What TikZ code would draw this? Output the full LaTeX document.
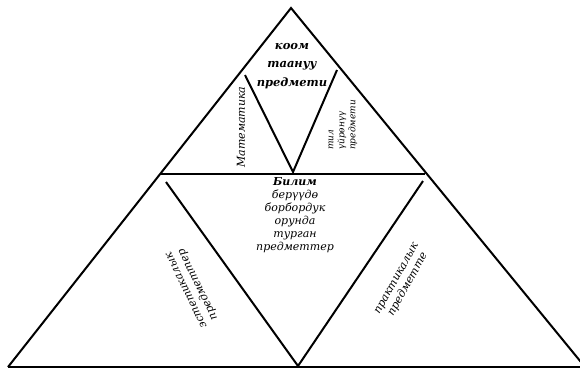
\documentclass[tikz,border=0pt]{standalone}
\usepackage{fontspec}
\setmainfont{DejaVu Serif}
\begin{document}
\begin{tikzpicture}[x=1pt,y=-1pt,
  edge/.style={line width=2pt, line cap=butt, line join=miter},
  lbl/.style={font=\itshape\fontsize{11}{13}\selectfont, align=center, inner sep=0pt},
  toplbl/.style={font=\bfseries\itshape\fontsize{11.5}{18.5}\selectfont, align=center, inner sep=0pt},
  smalllbl/.style={font=\itshape\fontsize{9}{11}\selectfont, align=left, inner sep=0pt}]
\useasboundingbox (0,0) rectangle (580,370);
% vertices
\coordinate (A) at (291,8);
\coordinate (BL) at (8,367);
\coordinate (BR) at (585,367);
\coordinate (BE) at (580,367);
\coordinate (H1) at (161,174);
\coordinate (H2) at (425,174);
\coordinate (T1) at (245,75);
\coordinate (T2) at (337,70);
\coordinate (TB) at (293,172);
\coordinate (L1) at (166,182);
\coordinate (LB) at (298,366);
\coordinate (L2) at (423,181);
% lines
\draw[edge] (BL) -- (A) -- (BR);
\draw[edge] (BL) -- (BE);
\draw[edge] (H1) -- (H2);
\draw[edge] (T1) -- (TB) -- (T2);
\draw[edge] (L1) -- (LB) -- (L2);
% texts
\node[toplbl] (soc) at (292,66) {коом\\таануу\\предмети};
\node[lbl, rotate=90] (math) at (241,127) {Математика};
\node[smalllbl, rotate=90] (lang) at (343,125) {тил\\үйрөнүү\\предмети};
\node[lbl] (core) at (295,215) {\textbf{Билим}\\берүүдө\\борбордук\\орунда\\турган\\предметтер};
\node[lbl, rotate=116] (aest) at (193,287) {эстетикалык\\предметтер};
\node[lbl, rotate=61] (prac) at (403,282) {практикалык\\предметте};
\end{tikzpicture}
\end{document}
